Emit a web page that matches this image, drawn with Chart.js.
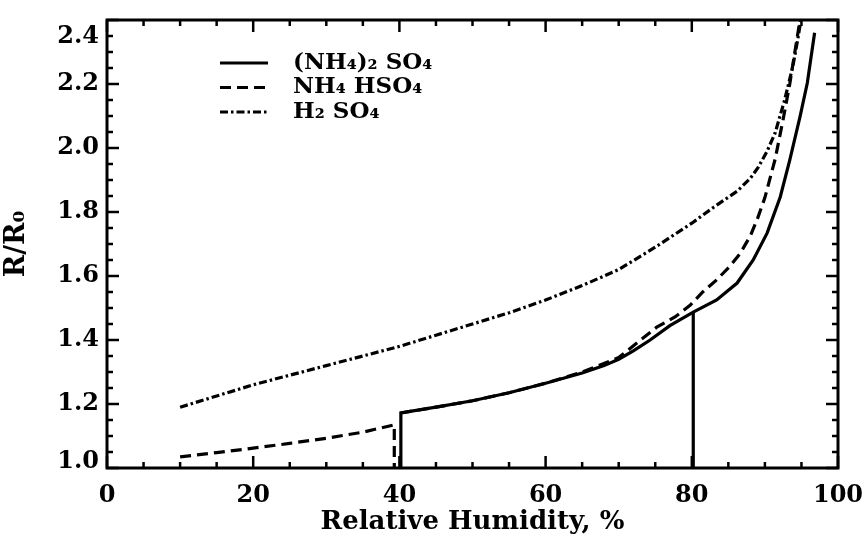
<!DOCTYPE html>
<html>
<head>
<meta charset="utf-8">
<script src="https://cdn.jsdelivr.net/npm/chart.js@4.4.1/dist/chart.umd.min.js"></script>
<style>
  html, body { margin: 0; padding: 0; background: #ffffff; }
</style>
</head>
<body>
<canvas id="chart" width="864" height="541"></canvas>
<script>
const FONT = "'DejaVu Serif', 'Liberation Serif', serif";

// (NH4)2SO4: rises from the 40 % step, deliquescence drop line at 80 %
const rhAmmoniumSulfate    = [40.2, 40.2, 45, 50, 55, 60, 65, 68, 70, 72, 74.3, 77, 80.2, 83.4, 86.2, 88.4, 90.3, 92.1, 93.4, 94.8, 95.8, 96.8];
const ratioAmmoniumSulfate = [1.0, 1.172, 1.19, 1.21, 1.235, 1.265, 1.297, 1.32, 1.34, 1.366, 1.40, 1.445, 1.487, 1.525, 1.578, 1.65, 1.734, 1.847, 1.962, 2.097, 2.203, 2.36];
const rhAmmoniumSulfateDrop    = [80.2, 80.2];
const ratioAmmoniumSulfateDrop = [1.0, 1.487];

// NH4HSO4: low branch with drop at 39 %, then the upper branch (null breaks the line)
const rhBisulfate    = [10, 15, 20, 25, 30, 35, 39.3, 39.3, 39.8, 40.2, 45, 50, 55, 60, 65, 70, 73, 75.2, 77.7, 79.8, 81.5, 83.4, 85.2, 86.6, 88, 89, 90, 91.4, 92.5, 93.4, 94.1, 94.8, 95.1];
const ratioBisulfate = [1.035, 1.048, 1.062, 1.077, 1.093, 1.112, 1.135, 1.0, null, 1.172, 1.19, 1.21, 1.235, 1.265, 1.3, 1.345, 1.40, 1.44, 1.472, 1.509, 1.55, 1.588, 1.63, 1.67, 1.725, 1.78, 1.845, 1.965, 2.09, 2.2, 2.3, 2.4, 2.45];

// H2SO4
const rhAcid    = [10, 15, 20, 25, 30, 35, 40, 45, 50, 55, 60, 65, 70, 75, 80, 83, 86.2, 88, 89.1, 90.3, 91.4, 92.7, 93.8, 94.5, 95.2];
const ratioAcid = [1.19, 1.225, 1.26, 1.29, 1.32, 1.35, 1.38, 1.415, 1.45, 1.485, 1.525, 1.57, 1.62, 1.69, 1.765, 1.815, 1.865, 1.905, 1.94, 1.99, 2.047, 2.15, 2.253, 2.34, 2.44];

const xTickValues = [0, 20, 40, 60, 80, 100];
const yTickValues = [1.0, 1.2, 1.4, 1.6, 1.8, 2.0, 2.2, 2.4];
const yMin = 1.0, yMax = 2.4;

const seriesLabels = ['(NH\u2084)\u2082 SO\u2084', 'NH\u2084 HSO\u2084', 'H\u2082 SO\u2084'];

const toPoints = (xs, ys) => xs.map((x, i) => ({ x, y: ys[i] }));

const lineStyle = {
  borderColor: '#000000',
  borderWidth: 3.2,
  pointRadius: 0,
  pointHoverRadius: 0,
  tension: 0,
  fill: false,
  spanGaps: false
};

// Boxed frame with inward major/minor ticks on all four sides
const frameTicks = {
  id: 'frameTicks',
  afterDatasetsDraw(chart) {
    const { ctx, chartArea: a, scales: { x, y } } = chart;
    ctx.save();
    ctx.strokeStyle = '#000';
    ctx.lineCap = 'butt';
    ctx.lineWidth = 2.5;
    const mark = (x1, y1, x2, y2) => { ctx.beginPath(); ctx.moveTo(x1, y1); ctx.lineTo(x2, y2); ctx.stroke(); };
    for (let i = 0; i <= 20; i++) {
      const px = x.getPixelForValue(i * 5);
      const len = i % 4 === 0 ? 12 : 6;
      mark(px, a.bottom, px, a.bottom - len);
      mark(px, a.top, px, a.top + len);
    }
    for (let i = 0; i <= 28; i++) {
      const py = y.getPixelForValue(yMin + i * 0.05);
      const len = i % 4 === 0 ? 12 : 6;
      mark(a.left, py, a.left + len, py);
      mark(a.right, py, a.right - len, py);
    }
    ctx.lineWidth = 3;
    ctx.strokeRect(a.left, a.top, a.right - a.left, a.bottom - a.top);
    ctx.restore();
  }
};

// Legend drawn inside the plot, using each dataset's own dash pattern
const insideLegend = {
  id: 'insideLegend',
  afterDatasetsDraw(chart) {
    const { ctx, chartArea: a } = chart;
    ctx.save();
    ctx.font = "bold 23px " + FONT;
    ctx.fillStyle = '#000';
    ctx.textBaseline = 'middle';
    let row = 0;
    chart.data.datasets.forEach(ds => {
      if (ds.inLegend === false) return;
      const yy = a.top + 43 + row * 24.5;
      const x0 = a.left + 113;
      ctx.strokeStyle = '#000';
      ctx.lineWidth = ds.borderWidth;
      ctx.setLineDash(ds.borderDash || []);
      ctx.beginPath();
      ctx.moveTo(x0, yy);
      ctx.lineTo(x0 + 48, yy);
      ctx.stroke();
      ctx.setLineDash([]);
      ctx.fillText(ds.label, x0 + 73, yy);
      row++;
    });
    ctx.restore();
  }
};

// The end labels of the ratio axis are nudged inside the frame corners
// (an empty second line shifts them by half a line height)
const isTop = v => Math.abs(v - yMax) < 1e-9;
const isBottom = v => Math.abs(v - yMin) < 1e-9;
const yLabel = v => {
  const s = Number(v).toFixed(1);
  if (isTop(v)) return ['', s];
  if (isBottom(v)) return [s, ''];
  return s;
};
const yTickFont = c => {
  const v = c.tick ? c.tick.value : NaN;
  let lh = 1.2;
  if (isTop(v)) lh = '34px';
  else if (isBottom(v)) lh = '12px';
  return { family: FONT, weight: 'bold', size: 24, lineHeight: lh };
};

new Chart(document.getElementById('chart'), {
  type: 'line',
  data: {
    datasets: [
      Object.assign({ label: seriesLabels[0], data: toPoints(rhAmmoniumSulfate, ratioAmmoniumSulfate) }, lineStyle),
      Object.assign({ label: seriesLabels[1], data: toPoints(rhBisulfate, ratioBisulfate), borderDash: [11, 6] }, lineStyle),
      Object.assign({ label: seriesLabels[2], data: toPoints(rhAcid, ratioAcid), borderDash: [8, 3, 2.5, 3] }, lineStyle),
      Object.assign({ label: seriesLabels[0], data: toPoints(rhAmmoniumSulfateDrop, ratioAmmoniumSulfateDrop), inLegend: false }, lineStyle)
    ]
  },
  options: {
    responsive: false,
    animation: false,
    devicePixelRatio: 1,
    layout: { padding: { top: 20, right: 26, bottom: 0, left: 0 } },
    plugins: { legend: { display: false }, tooltip: { enabled: false } },
    scales: {
      x: {
        type: 'linear',
        min: 0,
        max: 100,
        afterBuildTicks: s => { s.ticks = xTickValues.map(v => ({ value: v })); },
        afterFit: s => { s.height = 73; s.paddingLeft = 0; s.paddingRight = 0; },
        grid: { display: false, drawTicks: false },
        border: { display: false },
        ticks: { color: '#000', padding: 13, autoSkip: false, font: { family: FONT, weight: 'bold', size: 24 }, maxRotation: 0 },
        title: { display: true, text: 'Relative Humidity, %', color: '#000', padding: { top: 0, bottom: 3 }, font: { family: FONT, weight: 'bold', size: 26 } }
      },
      y: {
        type: 'linear',
        min: yMin,
        max: yMax,
        afterBuildTicks: s => { s.ticks = yTickValues.map(v => ({ value: v })); },
        afterFit: s => { s.width = 107; s.paddingTop = 0; s.paddingBottom = 0; },
        grid: { display: false, drawTicks: false },
        border: { display: false },
        ticks: { color: '#000', padding: 8, autoSkip: false, font: yTickFont, callback: yLabel },
        title: { display: true, text: 'R/R\u2080', color: '#000', padding: { top: 1, bottom: 0 }, font: { family: FONT, weight: 'bold', size: 27 } }
      }
    }
  },
  plugins: [frameTicks, insideLegend]
});
</script>
</body>
</html>
